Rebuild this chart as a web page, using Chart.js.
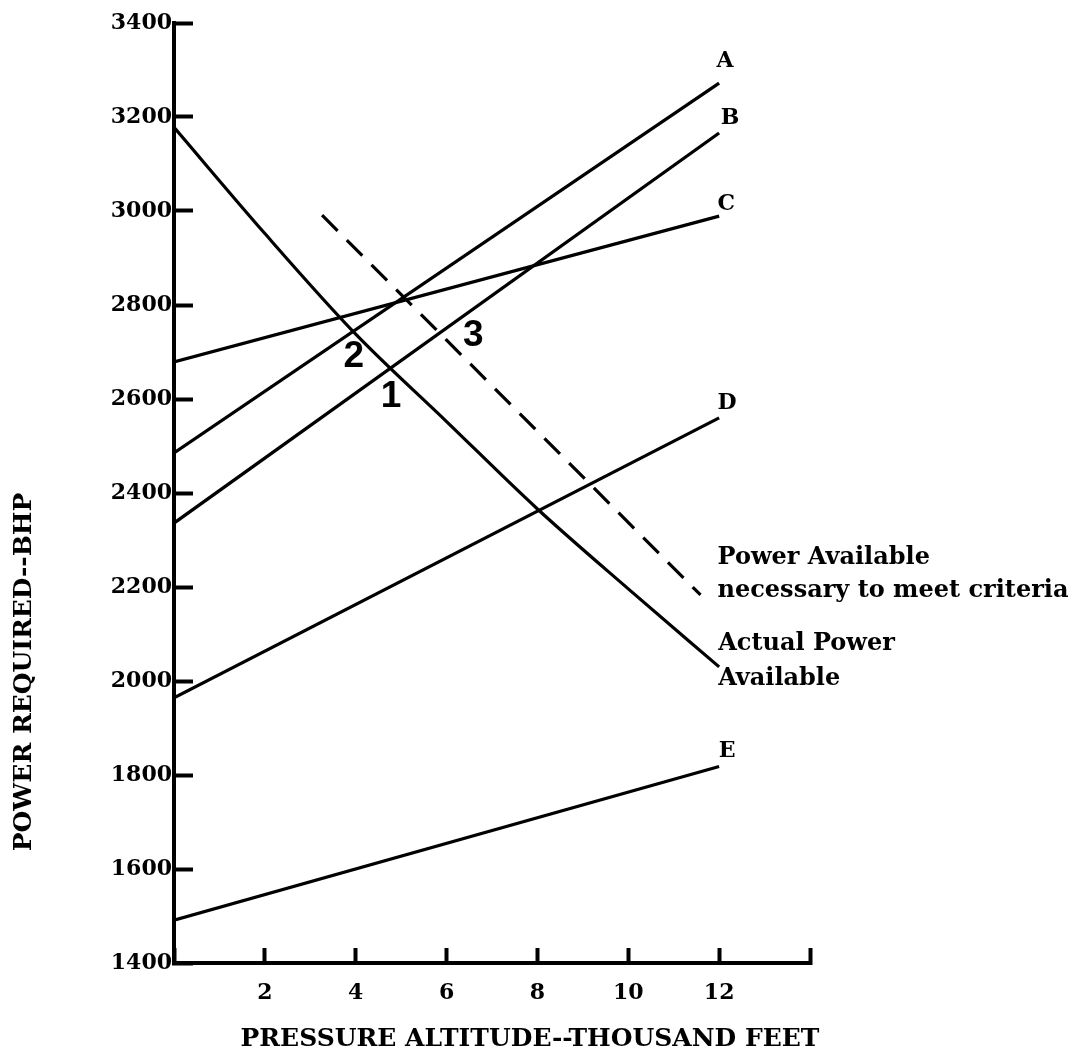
<!DOCTYPE html>
<html>
<head>
<meta charset="utf-8">
<script src="https://cdn.jsdelivr.net/npm/chart.js@4/dist/chart.umd.min.js"></script>
<style>
  html, body { margin: 0; padding: 0; background: #fff; }
  #wrap { width: 1084px; height: 1057px; position: relative; }
</style>
</head>
<body>
<div id="wrap"><canvas id="c" width="1084" height="1057"></canvas></div>
<script>
// ---- data ----
const lineX = [0, 12];
const seriesA = [2485, 3272];
const seriesB = [2336, 3166];
const seriesC = [2679, 2989];
const seriesD = [1964, 2560];
const seriesE = [1491, 1818];
const actualX = [0, 2, 4, 6, 8, 10, 12];
const actualPower = [3178, 2952, 2738, 2552, 2366, 2196, 2030];
const criteriaX = [3.26, 11.59];
const criteriaPower = [2991, 2183];
const seriesLetters = ['A', 'B', 'C', 'D', 'E'];
const yTickValues = [1400, 1600, 1800, 2000, 2200, 2400, 2600, 2800, 3000, 3200, 3400];
const xTickLabels = ['', '2', '4', '6', '8', '10', '12', ''];
const pointLabels = [
  { text: '2', x: 3.96, y: 2689 },
  { text: '1', x: 4.78, y: 2604 },
  { text: '3', x: 6.59, y: 2734 }
];
const xTitle = 'PRESSURE ALTITUDE--THOUSAND FEET';
const yTitle = 'POWER REQUIRED--BHP';
const criteriaText = ['Power Available', 'necessary to meet criteria'];
const actualText = ['Actual Power', 'Available'];

function pts(xs, ys) { return xs.map((x, i) => ({ x: x, y: ys[i] })); }

const straightSeries = [seriesA, seriesB, seriesC, seriesD, seriesE];
const datasets = straightSeries.map((s, i) => ({
  label: seriesLetters[i],
  data: pts(lineX, s),
  borderColor: '#000',
  borderWidth: 3.2,
  pointRadius: 0,
  fill: false
}));
datasets.push({
  label: 'Actual Power Available',
  data: pts(actualX, actualPower),
  borderColor: '#000',
  borderWidth: 3.2,
  pointRadius: 0,
  cubicInterpolationMode: 'monotone',
  fill: false
});
datasets.push({
  label: 'Power Available necessary to meet criteria',
  data: pts(criteriaX, criteriaPower),
  borderColor: '#000',
  borderWidth: 3.2,
  borderDash: [22, 13],
  pointRadius: 0,
  fill: false
});

const SERIF = '"DejaVu Serif", "Liberation Serif", serif';

const textPlugin = {
  id: 'texts',
  afterDraw(chart) {
    const ctx = chart.ctx;
    const xs = chart.scales.x, ys = chart.scales.y;
    ctx.save();
    ctx.fillStyle = '#000';

    // axis titles
    ctx.font = 'bold 25px ' + SERIF;
    ctx.textAlign = 'center';
    ctx.textBaseline = 'middle';
    ctx.fillText(xTitle, 530, 1039);
    ctx.save();
    ctx.translate(24, 672);
    ctx.rotate(-Math.PI / 2);
    ctx.fillText(yTitle, 0, 0);
    ctx.restore();

    // series letters
    const letterOffsets = [[6, -22], [11, -15], [7, -12], [8, -15], [8, -15]];
    ctx.font = 'bold 22px ' + SERIF;
    straightSeries.forEach((s, i) => {
      const px = xs.getPixelForValue(lineX[1]);
      const py = ys.getPixelForValue(s[1]);
      ctx.fillText(seriesLetters[i], px + letterOffsets[i][0], py + letterOffsets[i][1]);
    });

    // annotation texts
    ctx.font = 'bold 24px ' + SERIF;
    ctx.textAlign = 'left';
    ctx.textBaseline = 'alphabetic';
    const cx = xs.getPixelForValue(criteriaX[1]);
    const cy = ys.getPixelForValue(criteriaPower[1]);
    ctx.fillText(criteriaText[0], cx + 17, cy - 31);
    ctx.fillText(criteriaText[1], cx + 17, cy + 2);
    const ax = xs.getPixelForValue(actualX[actualX.length - 1]);
    const ay = ys.getPixelForValue(actualPower[actualPower.length - 1]);
    ctx.fillText(actualText[0], ax - 1, ay - 17);
    ctx.fillText(actualText[1], ax - 1, ay + 18);

    // intersection numbers
    ctx.font = 'bold 37px "Liberation Sans", Arial, sans-serif';
    ctx.textAlign = 'center';
    ctx.textBaseline = 'middle';
    pointLabels.forEach(p => {
      ctx.fillText(p.text, xs.getPixelForValue(p.x), ys.getPixelForValue(p.y));
    });
    ctx.restore();
  }
};

new Chart(document.getElementById('c'), {
  type: 'line',
  data: { datasets: datasets },
  plugins: [textPlugin],
  options: {
    responsive: false,
    animation: false,
    events: [],
    layout: { padding: { top: 23, right: 274, left: 0, bottom: 0 } },
    plugins: { legend: { display: false }, tooltip: { enabled: false }, title: { display: false } },
    scales: {
      x: {
        type: 'linear',
        min: 0,
        max: 14,
        afterFit(scale) {
          scale.height = 94;
          scale.paddingLeft = 0; scale.paddingRight = 0;
        },
        afterBuildTicks(scale) {
          scale.ticks = xTickLabels.map((t, i) => ({ value: i * 2 }));
        },
        ticks: {
          autoSkip: false,
          maxRotation: 0,
          padding: 32,
          color: '#000',
          font: { family: SERIF, size: 22, weight: 'bold' },
          callback: (v, i) => xTickLabels[i]
        },
        grid: { drawOnChartArea: false, drawTicks: true, tickLength: -15, tickWidth: 4, tickColor: '#000' },
        border: { display: true, width: 4, color: '#000' }
      },
      y: {
        type: 'linear',
        min: 1400,
        max: 3400,
        afterFit(scale) {
          scale.width = 174;
          scale.paddingTop = 0; scale.paddingBottom = 0;
        },
        afterBuildTicks(scale) {
          scale.ticks = yTickValues.map(v => ({ value: v }));
        },
        ticks: {
          autoSkip: false,
          padding: 21,
          color: '#000',
          font: { family: SERIF, size: 22, weight: 'bold' },
          callback: (v) => String(v)
        },
        grid: { drawOnChartArea: false, drawTicks: true, tickLength: -19, tickWidth: 4, tickColor: '#000' },
        border: { display: true, width: 4, color: '#000' }
      }
    }
  }
});
</script>
</body>
</html>
